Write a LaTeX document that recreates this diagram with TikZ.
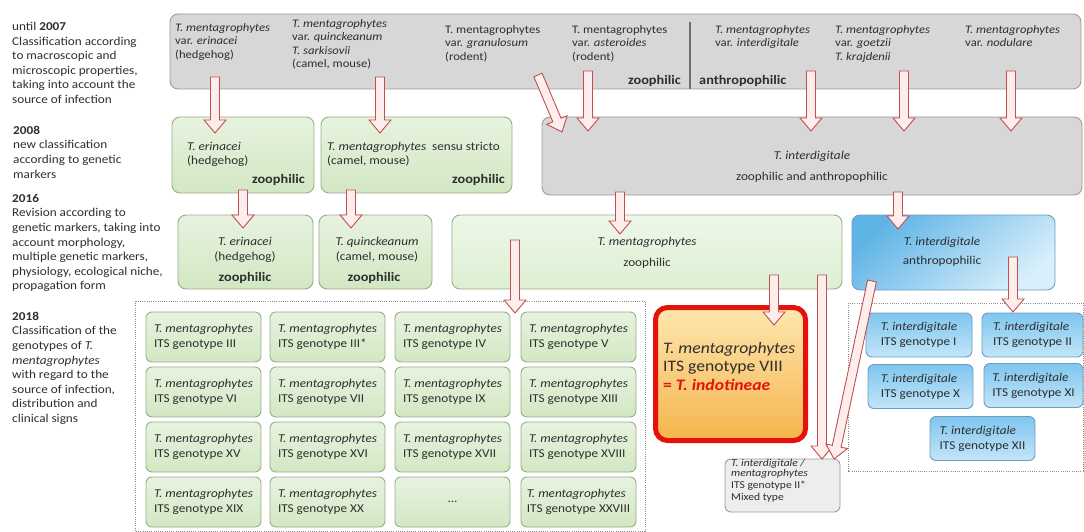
\documentclass[tikz,border=0pt]{standalone}
\usepackage{fontspec}
\setmainfont{Carlito}[FakeStretch=1.1]
\usetikzlibrary{calc}
\definecolor{ink}{HTML}{2E2E2E}
\definecolor{greyfill}{HTML}{D7D7D7}
\definecolor{greyline}{HTML}{9B9B9B}
\definecolor{sepline}{HTML}{6F6F6F}
\definecolor{greentop}{HTML}{E7F3DF}
\definecolor{greenbot}{HTML}{D2E7C3}
\definecolor{greenline}{HTML}{97AE8A}
\definecolor{paletop}{HTML}{EEF7E8}
\definecolor{palebot}{HTML}{DDEFD2}
\definecolor{bluetop}{HTML}{5FB4E6}
\definecolor{bluebot}{HTML}{D9EFFB}
\definecolor{blueline}{HTML}{6C9CC2}
\definecolor{chiptop}{HTML}{7FC6EF}
\definecolor{chipbot}{HTML}{C3E5F8}
\definecolor{ambertop}{HTML}{FDE7AE}
\definecolor{amberbot}{HTML}{F6B44C}
\definecolor{indred}{HTML}{E3120B}
\definecolor{mixfill}{HTML}{EDEDED}
\definecolor{arrfill}{HTML}{FDEDED}
\definecolor{arrline}{HTML}{C0504D}
\definecolor{frameline}{HTML}{8C8C8C}
\newcommand\fsz[2]{\fontsize{#1}{#2}\selectfont}
\newcommand\tmen{\textit{T. mentagrophytes}}
\newcommand\tint{\textit{T. interdigitale}}
\newcommand\blockarrow[2]{%
  \coordinate (ba-n) at ($(#2)!13pt!(#1)$);
  \path[blockarr] ($(#1)!4.5pt!90:(#2)$) -- ($(ba-n)!4.5pt!-90:(#1)$)
    -- ($(ba-n)!11pt!-90:(#1)$) -- (#2) -- ($(ba-n)!11pt!90:(#1)$)
    -- ($(ba-n)!4.5pt!90:(#1)$) -- ($(#1)!4.5pt!-90:(#2)$) -- cycle;}

\begin{document}
\begin{tikzpicture}[x=1pt,y=-1pt,text=ink,
  txt/.style={inner sep=0pt,align=left,font=\fsz{12}{14.6}},
  toptxt/.style={inner sep=0pt,align=left,anchor=north west,font=\fsz{11.5}{13.5}},
  habit/.style={inner sep=0pt,font=\fsz{13}{15}\bfseries},
  greybox/.style={draw=greyline,fill=greyfill,line width=0.9pt,rounded corners=8pt},
  greenbox/.style={draw=greenline,top color=greentop,bottom color=greenbot,line width=0.9pt,rounded corners=8pt},
  palebox/.style={draw=greenline,top color=paletop,bottom color=palebot,line width=0.9pt,rounded corners=8pt},
  bluebox/.style={draw=blueline,top color=bluetop,bottom color=bluebot,shading angle=40,line width=0.9pt,rounded corners=8pt},
  gtbox/.style={draw=greenline,top color=greentop,bottom color=greenbot,line width=0.9pt,rounded corners=6pt,
    minimum width=115,minimum height=50,inner sep=0pt,align=left,font=\fsz{12}{15}},
  btbox/.style={draw=blueline,top color=chiptop,bottom color=chipbot,line width=0.9pt,rounded corners=6pt,
    minimum height=44,inner sep=0pt,align=left,font=\fsz{12}{15}},
  indbox/.style={draw=indred,top color=ambertop,bottom color=amberbot,line width=5pt,rounded corners=12pt},
  mixbox/.style={draw=greyline,fill=mixfill,line width=0.9pt,rounded corners=6pt},
  frame/.style={draw=frameline,line width=0.8pt,dash pattern=on 1pt off 1.2pt},
  blockarr/.style={fill=arrfill,draw=arrline,line width=0.9pt,line join=miter}]
\useasboundingbox (0,0) rectangle (1084,532);
% time line on the left
\node[txt,anchor=north west] (y07) at (12,21.9) {until \textbf{2007}\\Classification according\\to macroscopic and\\microscopic properties,\\taking into account the\\source of infection};
\node[txt,anchor=north west] (y08) at (13,125.9) {\textbf{2008}\\new classification\\according to genetic\\markers};
\node[txt,anchor=north west] (y16) at (12,193.9) {\textbf{2016}\\Revision according to\\genetic markers, taking into\\account morphology,\\multiple genetic markers,\\physiology, ecological niche,\\propagation form};
\node[txt,anchor=north west] (y18) at (12,311.9) {\textbf{2018}\\Classification of the\\genotypes of \textit{T.}\\\textit{mentagrophytes}\\with regard to the\\source of infection,\\distribution and\\clinical signs};
% until 2007
\node[greybox,minimum width=911,minimum height=75] (pre07) at (625.5,51.5) {};
\draw[sepline,line width=1.2pt] (690,22) -- (690,89);
\node[toptxt] (c1) at (175,23.1) {\tmen\\var. \textit{erinacei}\\(hedgehog)};
\node[toptxt] (c2) at (292,19.1) {\tmen\\var. \textit{quinckeanum}\\\textit{T. sarkisovii}\\(camel, mouse)};
\node[toptxt] (c3) at (445,25.1) {T. mentagrophytes\\var. \textit{granulosum}\\(rodent)};
\node[toptxt] (c4) at (572,25.1) {T. mentagrophytes\\var. \textit{asteroides}\\(rodent)};
\node[toptxt] (c5) at (715,25.1) {\tmen\\var. \textit{interdigitale}};
\node[toptxt] (c6) at (835,25.1) {\tmen\\var. \textit{goetzii}\\\textit{T. krajdenii}};
\node[toptxt] (c7) at (965,25.1) {\tmen\\var. \textit{nodulare}};
\node[habit,anchor=east] (zoo07) at (681,81) {zoophilic};
\node[habit,anchor=west] (anth07) at (699,81) {anthropophilic};
% 2008
\node[greenbox,minimum width=142,minimum height=76] (erin08) at (243,155) {};
\node[txt,anchor=north west,font=\fsz{12}{14}] (erin08t) at (187,141.9) {\textit{T. erinacei}\\(hedgehog)};
\node[habit,anchor=east] (erin08h) at (305,180) {zoophilic};
\node[greenbox,minimum width=191,minimum height=76] (ment08) at (416.5,155) {};
\node[txt,anchor=north west,font=\fsz{12}{14}] (ment08t) at (327,141.9) {\tmen\ \ sensu stricto\\(camel, mouse)};
\node[habit,anchor=east] (ment08h) at (505,180) {zoophilic};
\node[greybox,minimum width=540,minimum height=78] (intd08) at (812,156) {};
\node[txt,anchor=north,align=center,font=\fsz{12}{21}] (intd08t) at (812,150.9) {\tint\\zoophilic and anthropophilic};
% 2016
\node[greenbox,minimum width=135,minimum height=74] (erin16) at (245.5,252) {};
\node[txt,anchor=north,align=center,font=\fsz{12}{15}] (erin16t) at (245,236.9) {\textit{T. erinacei}\\(hedgehog)};
\node[habit] (erin16h) at (245,278) {zoophilic};
\node[greenbox,minimum width=113,minimum height=74] (quin16) at (375.5,252) {};
\node[txt,anchor=north,align=center,font=\fsz{12}{15}] (quin16t) at (377,236.9) {\textit{T. quinckeanum}\\(camel, mouse)};
\node[habit] (quin16h) at (374,278) {zoophilic};
\node[palebox,minimum width=390,minimum height=74] (ment16) at (647,252) {};
\node[txt,anchor=north,align=center,font=\fsz{12}{21}] (ment16t) at (647,236.9) {\tmen\\zoophilic};
\node[bluebox,minimum width=203,minimum height=75] (intd16) at (953.5,252.5) {};
\node[txt,anchor=north,align=center,font=\fsz{12}{19}] (intd16t) at (942,236.9) {\tint\\anthropophilic};
% 2018
\draw[frame] (135,301) rectangle (645,531);
\draw[frame] (848,303) rectangle (1083,471);
\node[gtbox] (g3) at (203.5,337) {\tmen\\ITS genotype III};
\node[gtbox] (g3s) at (327.5,337) {\tmen\\ITS genotype III*};
\node[gtbox] (g4) at (452.5,337) {\tmen\\ITS genotype IV};
\node[gtbox] (g5) at (578.5,337) {\tmen\\ITS genotype V};
\node[gtbox] (g6) at (203.5,392) {\tmen\\ITS genotype VI};
\node[gtbox] (g7) at (327.5,392) {\tmen\\ITS genotype VII};
\node[gtbox] (g9) at (452.5,392) {\tmen\\ITS genotype IX};
\node[gtbox] (g13) at (578.5,392) {\tmen\\ITS genotype XIII};
\node[gtbox] (g15) at (203.5,447) {\tmen\\ITS genotype XV};
\node[gtbox] (g16) at (327.5,447) {\tmen\\ITS genotype XVI};
\node[gtbox] (g17) at (452.5,447) {\tmen\\ITS genotype XVII};
\node[gtbox] (g18) at (578.5,447) {\tmen\\ITS genotype XVIII};
\node[gtbox] (g19) at (203.5,502) {\tmen\\ITS genotype XIX};
\node[gtbox] (g20) at (327.5,502) {\tmen\\ITS genotype XX};
\node[gtbox] (gdots) at (452.5,502) {...};
\node[gtbox] (g28) at (578.5,502) {\tmen\\ITS genotype XXVIII};
\node[indbox,minimum width=150,minimum height=133] (g8) at (730.5,374) {};
\node[txt,anchor=north west,font=\fsz{16}{18.5}] (g8t) at (663,341.8) {\tmen\\ITS genotype VIII\\\textcolor{indred}{\textbf{= \textit{T. indotineae}}}};
\node[mixbox,minimum width=115,minimum height=53] (g2m) at (782.5,485.5) {};
\node[txt,anchor=north west,font=\fsz{10.5}{12}] (g2mt) at (731,459.5) {\textit{T. interdigitale /}\\[-2.5pt]\textit{mentagrophytes}\\ITS genotype II*\\Mixed type};
\node[btbox,minimum width=106] (i1) at (919,335) {\tint\\ITS genotype I};
\node[btbox,minimum width=101] (i2) at (1032.5,335) {\tint\\ITS genotype II};
\node[btbox,minimum width=105] (i10) at (920.5,386.5) {\tint\\ITS genotype X};
\node[btbox,minimum width=99] (i11) at (1033.5,385.5) {\tint\\ITS genotype XI};
\node[btbox,minimum width=105] (i12) at (982.5,438.5) {\tint\\ITS genotype XII};
% arrows
\coordinate (a1s) at (215,77);   \coordinate (a1e) at (215,133);
\coordinate (a2s) at (380,77);   \coordinate (a2e) at (380,133);
\coordinate (a3s) at (538,75);   \coordinate (a3e) at (562,132);
\coordinate (a4s) at (588,71);   \coordinate (a4e) at (588,131);
\coordinate (a5s) at (811,71);   \coordinate (a5e) at (811,131);
\coordinate (a6s) at (904,71);   \coordinate (a6e) at (904,131);
\coordinate (a7s) at (1011,71);  \coordinate (a7e) at (1011,131);
\coordinate (a8s) at (243,190);  \coordinate (a8e) at (243,228);
\coordinate (a9s) at (351,190);  \coordinate (a9e) at (351,228);
\coordinate (a10s) at (620,192); \coordinate (a10e) at (620,234);
\coordinate (a11s) at (898,192); \coordinate (a11e) at (898,229);
\coordinate (a12s) at (515,240); \coordinate (a12e) at (515,313);
\coordinate (a13s) at (774,275); \coordinate (a13e) at (774,325);
\coordinate (a14s) at (822,275); \coordinate (a14e) at (822,459);
\coordinate (a15s) at (872,281); \coordinate (a15e) at (834,459);
\coordinate (a16s) at (1013,257); \coordinate (a16e) at (1013,312);
\blockarrow{a1s}{a1e}
\blockarrow{a2s}{a2e}
\blockarrow{a3s}{a3e}
\blockarrow{a4s}{a4e}
\blockarrow{a5s}{a5e}
\blockarrow{a6s}{a6e}
\blockarrow{a7s}{a7e}
\blockarrow{a8s}{a8e}
\blockarrow{a9s}{a9e}
\blockarrow{a10s}{a10e}
\blockarrow{a11s}{a11e}
\blockarrow{a12s}{a12e}
\blockarrow{a13s}{a13e}
\blockarrow{a14s}{a14e}
\blockarrow{a15s}{a15e}
\blockarrow{a16s}{a16e}
\end{tikzpicture}
\end{document}
